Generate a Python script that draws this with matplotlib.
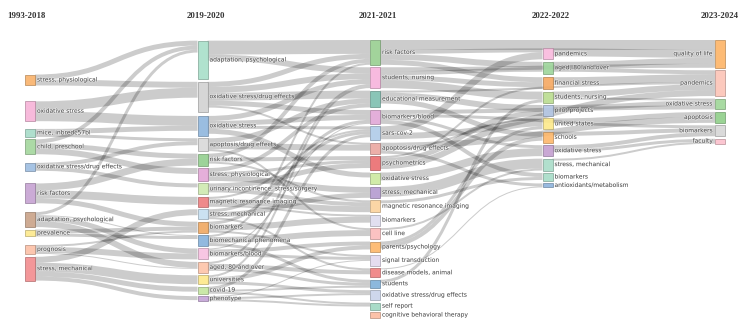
import matplotlib.pyplot as plt
from matplotlib.path import Path
from matplotlib.patches import PathPatch, Rectangle
import matplotlib.colors as mcolors
import matplotlib.patheffects as pe

periods = ['1993-2018', '2019-2020', '2021-2021', '2022-2022', '2023-2024']

# themes of every period: names, weights and colours
p1_names = ['stress, physiological', 'oxidative stress', 'mice, inbredc57bl', 'child, preschool',
            'oxidative stress/drug effects', 'risk factors', 'adaptation, psychological',
            'prevalence', 'prognosis', 'stress, mechanical']
p1_values = [11, 20, 8, 15, 8, 20, 15, 7, 9, 24]
p1_colors = ['#f9b26b', '#f7b3d8', '#a6dcc8', '#a3d69c', '#9dbde0', '#c6a2d2', '#c9a287',
             '#fde98c', '#fcc0a6', '#f28c8e']

p2_names = ['adaptation, psychological', 'oxidative stress/drug effects', 'oxidative stress',
            'apoptosis/drug effects', 'risk factors', 'stress, physiological',
            'urinary incontinence, stress/surgery', 'magnetic resonance imaging',
            'stress, mechanical', 'biomarkers', 'biomechanical phenomena', 'biomarkers/blood',
            'aged, 80 and over', 'universities', 'covid-19', 'phenotype']
p2_values = [39, 30, 20, 13, 12, 13, 11, 10, 10, 11, 11, 11, 11, 9, 7, 5]
p2_colors = ['#a8dfc9', '#d2d2d2', '#8fb6dd', '#d9d9d9', '#93cf8e', '#e3a6d6', '#cfe9b0',
             '#ee7d7f', '#c6dff1', '#f0a860', '#86b2dc', '#f8c0e0', '#fdc3a8', '#fde88a',
             '#c5e6a0', '#c4a3d6']

p3_names = ['risk factors', 'students, nursing', 'educational measurement', 'biomarkers/blood',
            'sars-cov-2', 'apoptosis/drug effects', 'psychometrics', 'oxidative stress',
            'stress, mechanical', 'magnetic resonance imaging', 'biomarkers', 'cell line',
            'parents/psychology', 'signal transduction', 'disease models, animal', 'students',
            'oxidative stress/drug effects', 'self report', 'cognitive behavioral therapy']
p3_values = [25, 21, 17, 14, 14, 11, 14, 12, 11, 12, 11, 11, 11, 11, 9, 8, 10, 7, 6]
p3_colors = ['#98cf90', '#f7b3dc', '#7dbfb0', '#e0a6d6', '#b0cbe8', '#eaa6a0', '#ea6d6f',
             '#cce9a0', '#b49ad0', '#fbd29c', '#dedcef', '#fbbcbc', '#fdb668', '#e3d9ee',
             '#f08080', '#80b1da', '#c9d3ea', '#9fd9c2', '#fcbca0']

p4_names = ['pandemics', 'aged, 80 and over', 'financial stress', 'students, nursing',
            'pilot projects', 'united states', 'schools', 'oxidative stress',
            'stress, mechanical', 'biomarkers', 'antioxidants/metabolism']
p4_values = [11, 12, 12, 11, 11, 11, 11, 11, 12, 8, 4]
p4_colors = ['#f9b9dd', '#9dd59a', '#f5a860', '#b9dc8f', '#b3c6e4', '#fde98a', '#fdb76a',
             '#c39fd0', '#a9dcc8', '#a7dcc7', '#8db3dc']

p5_names = ['quality of life', 'pandemics', 'oxidative stress', 'apoptosis', 'biomarkers', 'faculty']
p5_values = [28, 26, 11, 11, 11, 5]
p5_colors = ['#fdb466', '#fcc3b6', '#9fd698', '#8fcf88', '#d6d6d6', '#fbc0cc']

# flows: (source period, source theme, target period, target theme, weight)
links = [
    (0, 'stress, physiological', 1, 'adaptation, psychological', 5),
    (0, 'stress, physiological', 1, 'oxidative stress/drug effects', 6),
    (0, 'oxidative stress', 1, 'oxidative stress/drug effects', 10),
    (0, 'oxidative stress', 1, 'oxidative stress', 10),
    (0, 'mice, inbredc57bl', 1, 'oxidative stress', 5),
    (0, 'mice, inbredc57bl', 1, 'apoptosis/drug effects', 3),
    (0, 'child, preschool', 1, 'adaptation, psychological', 4),
    (0, 'child, preschool', 1, 'risk factors', 5),
    (0, 'child, preschool', 1, 'stress, physiological', 6),
    (0, 'oxidative stress/drug effects', 1, 'apoptosis/drug effects', 4),
    (0, 'oxidative stress/drug effects', 1, 'urinary incontinence, stress/surgery', 4),
    (0, 'risk factors', 1, 'risk factors', 7),
    (0, 'risk factors', 1, 'magnetic resonance imaging', 8),
    (0, 'risk factors', 1, 'biomarkers', 5),
    (0, 'adaptation, psychological', 1, 'adaptation, psychological', 3),
    (0, 'adaptation, psychological', 1, 'biomarkers/blood', 5),
    (0, 'adaptation, psychological', 1, 'aged, 80 and over', 6),
    (0, 'adaptation, psychological', 1, 'biomechanical phenomena', 1),
    (0, 'prevalence', 1, 'biomarkers', 4),
    (0, 'prevalence', 1, 'biomechanical phenomena', 3),
    (0, 'prognosis', 1, 'biomarkers/blood', 6),
    (0, 'prognosis', 1, 'biomarkers', 2),
    (0, 'prognosis', 1, 'aged, 80 and over', 1),
    (0, 'stress, mechanical', 1, 'stress, mechanical', 6),
    (0, 'stress, mechanical', 1, 'universities', 9),
    (0, 'stress, mechanical', 1, 'covid-19', 5),
    (0, 'stress, mechanical', 1, 'phenotype', 4),

    (1, 'adaptation, psychological', 2, 'risk factors', 14),
    (1, 'adaptation, psychological', 2, 'students, nursing', 6),
    (1, 'oxidative stress/drug effects', 2, 'risk factors', 5),
    (1, 'oxidative stress/drug effects', 2, 'students, nursing', 6),
    (1, 'oxidative stress/drug effects', 2, 'educational measurement', 8),
    (1, 'oxidative stress/drug effects', 2, 'biomarkers/blood', 5),
    (1, 'oxidative stress/drug effects', 2, 'apoptosis/drug effects', 2),
    (1, 'oxidative stress', 2, 'oxidative stress', 5),
    (1, 'oxidative stress', 2, 'biomarkers/blood', 5),
    (1, 'oxidative stress', 2, 'sars-cov-2', 3),
    (1, 'oxidative stress', 2, 'students, nursing', 5),
    (1, 'apoptosis/drug effects', 2, 'apoptosis/drug effects', 6),
    (1, 'apoptosis/drug effects', 2, 'cell line', 2),
    (1, 'apoptosis/drug effects', 2, 'educational measurement', 5),
    (1, 'risk factors', 2, 'risk factors', 4),
    (1, 'risk factors', 2, 'psychometrics', 4),
    (1, 'risk factors', 2, 'magnetic resonance imaging', 2),
    (1, 'stress, physiological', 2, 'educational measurement', 4),
    (1, 'stress, physiological', 2, 'stress, mechanical', 6),
    (1, 'stress, physiological', 2, 'psychometrics', 3),
    (1, 'urinary incontinence, stress/surgery', 2, 'psychometrics', 5),
    (1, 'urinary incontinence, stress/surgery', 2, 'magnetic resonance imaging', 4),
    (1, 'magnetic resonance imaging', 2, 'magnetic resonance imaging', 6),
    (1, 'magnetic resonance imaging', 2, 'biomarkers', 2),
    (1, 'magnetic resonance imaging', 2, 'sars-cov-2', 2),
    (1, 'stress, mechanical', 2, 'stress, mechanical', 5),
    (1, 'stress, mechanical', 2, 'disease models, animal', 2),
    (1, 'stress, mechanical', 2, 'sars-cov-2', 3),
    (1, 'biomarkers', 2, 'biomarkers', 6),
    (1, 'biomarkers', 2, 'biomarkers/blood', 3),
    (1, 'biomarkers', 2, 'signal transduction', 2),
    (1, 'biomechanical phenomena', 2, 'cell line', 6),
    (1, 'biomechanical phenomena', 2, 'students', 3),
    (1, 'biomechanical phenomena', 2, 'risk factors', 2),
    (1, 'biomarkers/blood', 2, 'biomarkers/blood', 1),
    (1, 'biomarkers/blood', 2, 'parents/psychology', 4),
    (1, 'biomarkers/blood', 2, 'signal transduction', 3),
    (1, 'aged, 80 and over', 2, 'students, nursing', 2),
    (1, 'aged, 80 and over', 2, 'disease models, animal', 4),
    (1, 'aged, 80 and over', 2, 'students', 3),
    (1, 'universities', 2, 'students, nursing', 2),
    (1, 'universities', 2, 'parents/psychology', 4),
    (1, 'universities', 2, 'oxidative stress/drug effects', 3),
    (1, 'covid-19', 2, 'sars-cov-2', 3),
    (1, 'covid-19', 2, 'students', 2),
    (1, 'covid-19', 2, 'self report', 2),
    (1, 'phenotype', 2, 'self report', 2),
    (1, 'phenotype', 2, 'oxidative stress/drug effects', 2),
    (1, 'phenotype', 2, 'signal transduction', 1),

    (2, 'risk factors', 4, 'quality of life', 10),
    (2, 'risk factors', 3, 'pandemics', 4),
    (2, 'risk factors', 3, 'aged, 80 and over', 6),
    (2, 'risk factors', 3, 'financial stress', 5),
    (2, 'students, nursing', 4, 'quality of life', 4),
    (2, 'students, nursing', 3, 'aged, 80 and over', 4),
    (2, 'students, nursing', 3, 'financial stress', 5),
    (2, 'students, nursing', 3, 'students, nursing', 8),
    (2, 'educational measurement', 4, 'pandemics', 2),
    (2, 'educational measurement', 3, 'pilot projects', 6),
    (2, 'educational measurement', 3, 'schools', 5),
    (2, 'biomarkers/blood', 4, 'oxidative stress', 4),
    (2, 'biomarkers/blood', 4, 'biomarkers', 3),
    (2, 'biomarkers/blood', 3, 'oxidative stress', 3),
    (2, 'biomarkers/blood', 3, 'biomarkers', 4),
    (2, 'sars-cov-2', 4, 'pandemics', 6),
    (2, 'sars-cov-2', 3, 'pandemics', 7),
    (2, 'apoptosis/drug effects', 4, 'apoptosis', 6),
    (2, 'apoptosis/drug effects', 3, 'united states', 2),
    (2, 'apoptosis/drug effects', 3, 'antioxidants/metabolism', 3),
    (2, 'psychometrics', 3, 'financial stress', 2),
    (2, 'psychometrics', 3, 'pilot projects', 5),
    (2, 'psychometrics', 3, 'united states', 6),
    (2, 'oxidative stress', 3, 'oxidative stress', 8),
    (2, 'stress, mechanical', 3, 'stress, mechanical', 10),
    (2, 'magnetic resonance imaging', 3, 'biomarkers', 3),
    (2, 'cell line', 3, 'stress, mechanical', 2),
    (2, 'parents/psychology', 3, 'united states', 3),
    (2, 'parents/psychology', 3, 'schools', 4),
    (2, 'disease models, animal', 3, 'antioxidants/metabolism', 1),
    (2, 'students', 3, 'students, nursing', 3),

    (3, 'pandemics', 4, 'quality of life', 8),
    (3, 'aged, 80 and over', 4, 'quality of life', 6),
    (3, 'aged, 80 and over', 4, 'pandemics', 4),
    (3, 'financial stress', 4, 'pandemics', 8),
    (3, 'students, nursing', 4, 'pandemics', 6),
    (3, 'students, nursing', 4, 'oxidative stress', 2),
    (3, 'pilot projects', 4, 'oxidative stress', 5),
    (3, 'united states', 4, 'apoptosis', 5),
    (3, 'schools', 4, 'biomarkers', 4),
    (3, 'oxidative stress', 4, 'biomarkers', 4),
    (3, 'oxidative stress', 4, 'faculty', 3),
    (3, 'stress, mechanical', 4, 'faculty', 2),
]

all_names = [p1_names, p2_names, p3_names, p4_names, p5_names]
all_values = [p1_values, p2_values, p3_values, p4_values, p5_values]
all_colors = [p1_colors, p2_colors, p3_colors, p4_colors, p5_colors]

# ---- sankey layout ----
left, right, node_w = 25, 725, 10
top, bottom, pad = 40, 318, 2.5
step = (right - node_w - left) / (len(periods) - 1)

cols = []
for c in range(len(periods)):
    cols.append([dict(col=c, name=nm, value=v, color=cl, x=left + c * step, out=[], inn=[])
                 for nm, v, cl in zip(all_names[c], all_values[c], all_colors[c])])

lookup = {(n['col'], n['name']): n for col in cols for n in col}
flows = []
for sc, sn, tc, tn, v in links:
    f = dict(s=lookup[(sc, sn)], t=lookup[(tc, tn)], v=v)
    f['s']['out'].append(f)
    f['t']['inn'].append(f)
    flows.append(f)

ky = min((bottom - top - (len(col) - 1) * pad) / sum(n['value'] for n in col) for col in cols)
for f in flows:
    f['dy'] = f['v'] * ky


def center(n):
    return n['y'] + n['dy'] / 2


def resolve(col):
    y0 = top
    for n in col:
        if n['y'] < y0:
            n['y'] = y0
        y0 = n['y'] + n['dy'] + pad
    over = y0 - pad - bottom
    if over > 0:
        col[-1]['y'] -= over
        y0 = col[-1]['y']
        for n in reversed(col[:-1]):
            d = n['y'] + n['dy'] + pad - y0
            if d > 0:
                n['y'] -= d
            y0 = n['y']


for col in cols:
    for i, n in enumerate(col):
        n['y'] = i
        n['dy'] = n['value'] * ky
    resolve(col)

# one relaxation sweep, right to left
for col in reversed(cols):
    for n in col:
        if n['out']:
            w = sum(f['v'] for f in n['out'])
            n['y'] = sum(center(f['t']) * f['v'] for f in n['out']) / w - n['dy'] / 2
    resolve(col)

for col in cols:
    for n in col:
        n['out'].sort(key=lambda f: f['t']['y'])
        n['inn'].sort(key=lambda f: f['s']['y'])
        sy = 0
        for f in n['out']:
            f['sy'] = sy
            sy += f['dy']
        ty = 0
        for f in n['inn']:
            f['ty'] = ty
            ty += f['dy']

# ---- drawing ----
fig = plt.figure(figsize=(7.5, 3.27), dpi=100)
ax = fig.add_axes([0, 0, 1, 1])
ax.set_xlim(0, 750)
ax.set_ylim(327, 0)
ax.axis('off')

for f in flows:
    x0 = f['s']['x'] + node_w
    x1 = f['t']['x']
    xm = (x0 + x1) / 2
    y0 = f['s']['y'] + f['sy'] + f['dy'] / 2
    y1 = f['t']['y'] + f['ty'] + f['dy'] / 2
    path = Path([(x0, y0), (xm, y0), (xm, y1), (x1, y1)],
                [Path.MOVETO, Path.CURVE4, Path.CURVE4, Path.CURVE4])
    ax.add_patch(PathPatch(path, fill=False, edgecolor='black', alpha=0.2,
                           lw=max(1, f['dy']) * 0.72, capstyle='butt'))

halo = [pe.withStroke(linewidth=0.8, foreground='white', alpha=0.6)]
for c, col in enumerate(cols):
    for n in col:
        edge = tuple(v * 0.7 for v in mcolors.to_rgb(n['color']))
        ax.add_patch(Rectangle((n['x'], n['y']), node_w, n['dy'], facecolor=n['color'],
                               edgecolor=edge, lw=0.5, alpha=0.9))
        if c < len(periods) - 1:
            ax.text(n['x'] + node_w + 2, center(n), n['name'], ha='left', va='center',
                    fontsize=4.3, color='#4d4d4d', path_effects=halo)
        else:
            ax.text(n['x'] - 2, center(n), n['name'], ha='right', va='center',
                    fontsize=4.3, color='#4d4d4d', path_effects=halo)

for c, label in enumerate(periods):
    kw = dict(va='center', fontsize=6.3, fontweight='bold', family='Liberation Serif',
              color='#333333')
    if c == 0:
        ax.text(7, 16, label, ha='left', **kw)
    elif c == len(periods) - 1:
        ax.text(739, 16, label, ha='right', **kw)
    else:
        ax.text(left + c * step + node_w / 2 + 3, 16, label, ha='center', **kw)

fig.savefig('out.png', dpi=100, facecolor='white')
